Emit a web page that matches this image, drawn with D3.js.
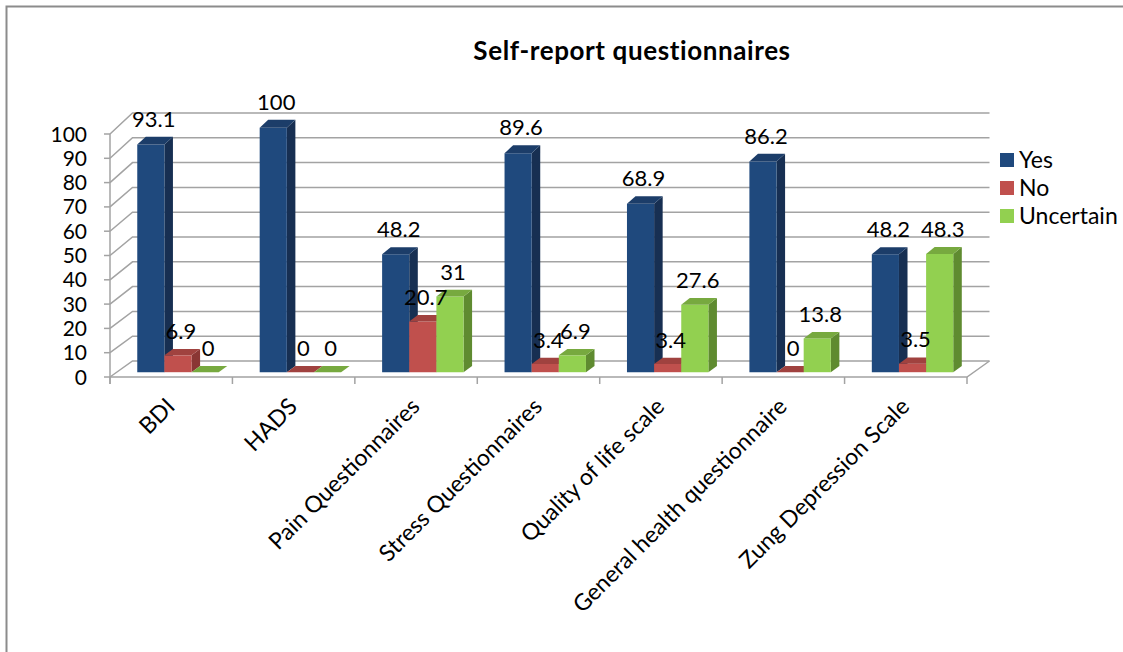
<!DOCTYPE html>
<html>
<head>
<meta charset="utf-8">
<script src="https://cdn.jsdelivr.net/npm/d3@7"></script>
<style>
  html, body { margin: 0; padding: 0; background: #fff; overflow: hidden; }
  svg { display: block; font-family: Lato, "Open Sans", sans-serif; }
</style>
</head>
<body>
<svg id="chart" width="1123" height="652"></svg>
<script>
// Categories and series values (percent)
const categories = [
  "BDI", "HADS", "Pain Questionnaires", "Stress Questionnaires",
  "Quality of life scale", "General health questionnaire", "Zung Depression Scale"
];
const seriesNames = ["Yes", "No", "Uncertain"];
const yesValues = [93.1, 100, 48.2, 89.6, 68.9, 86.2, 48.2];
const noValues = [6.9, 0, 20.7, 3.4, 3.4, 0, 3.5];
const uncertainValues = [0, 0, 31, 6.9, 27.6, 13.8, 48.3];
const yTicks = [0, 10, 20, 30, 40, 50, 60, 70, 80, 90, 100];

const seriesValues = { Yes: yesValues, No: noValues, Uncertain: uncertainValues };
const colors = {
  Yes:       { front: "#1F497D", side: "#172F52", top: "#1C3D69" },
  No:        { front: "#C0504D", side: "#8A3634", top: "#A0423F" },
  Uncertain: { front: "#92D050", side: "#5F8B30", top: "#77A93F" }
};

const svg = d3.select("#chart");

// Chart area border (top and left edges fall inside the page)
svg.append("path")
  .attr("d", "M6.5,660 L6.5,6.5 L1130,6.5")
  .attr("fill", "none").attr("stroke", "#8c8c8c").attr("stroke-width", 2);

// Title
svg.append("text")
  .attr("x", 632).attr("y", 60)
  .attr("text-anchor", "middle")
  .attr("font-weight", "bold")
  .attr("font-size", 26)
  .attr("letter-spacing", 0.6)
  .attr("fill", "#000")
  .text("Self-report questionnaires");

// 3D plot geometry: front plane and back wall, with depth t in [0,1]
const frontX0 = 110, plotWidth = 857, depthDX = 22.5;
const yFront = d3.scaleLinear().domain([0, 100]).range([377, 134]);
const yBack = d3.scaleLinear().domain([0, 100]).range([361, 113]);
const x = d3.scaleBand().domain(categories).range([0, plotWidth]).paddingInner(0).paddingOuter(0);
const bw = x.bandwidth();
const xs = d3.scaleBand().domain(seriesNames).range([bw * 0.1675, bw * 0.8325]).paddingInner(0);

function proj(u, v, t) {
  return [frontX0 + u + depthDX * t, yFront(v) + (yBack(v) - yFront(v)) * t];
}

const gridColor = "#a3a3a3";
const grid = svg.append("g").attr("stroke", gridColor).attr("stroke-width", 1.5).attr("fill", "none");

// Left wall diagonals and back wall gridlines
yTicks.forEach(v => {
  const f = proj(0, v, 0), b = proj(0, v, 1), e = proj(plotWidth, v, 1);
  grid.append("path").attr("d", d3.line()([f, b, e]));
});

// Floor front and right edges
{
  const a = proj(0, 0, 0), b = proj(plotWidth, 0, 0), c = proj(plotWidth, 0, 1);
  grid.append("path").attr("d", d3.line()([a, b, c]));
}

// Vertical value axis with ticks
grid.append("line")
  .attr("x1", frontX0).attr("x2", frontX0)
  .attr("y1", yFront(100)).attr("y2", yFront(0) + 7);
yTicks.forEach(v => {
  grid.append("line")
    .attr("x1", frontX0 - 6).attr("x2", frontX0)
    .attr("y1", yFront(v)).attr("y2", yFront(v));
});
// Category ticks below the floor
d3.range(categories.length + 1).forEach(i => {
  const px = frontX0 + i * bw;
  grid.append("line")
    .attr("x1", px).attr("x2", px)
    .attr("y1", yFront(0)).attr("y2", yFront(0) + 7);
});

// Y tick labels
svg.append("g").selectAll("text").data(yTicks).join("text")
  .attr("x", 87).attr("y", d => yFront(d))
  .attr("dy", "0.36em")
  .attr("text-anchor", "end")
  .attr("font-size", 21)
  .attr("fill", "#000")
  .text(d => d);

// Bars (front face, right side, top)
const t0 = 0.3, t1 = 0.68;
const bars = svg.append("g");
const labelData = [];
categories.forEach((cat, ci) => {
  seriesNames.forEach(s => {
    const v = seriesValues[s][ci];
    const u0 = x(cat) + xs(s), u1 = u0 + xs.bandwidth();
    const c = colors[s];
    const fbl = proj(u0, 0, t0), fbr = proj(u1, 0, t0);
    const ftl = proj(u0, v, t0), ftr = proj(u1, v, t0);
    const bbr = proj(u1, 0, t1), btr = proj(u1, v, t1), btl = proj(u0, v, t1);
    const g = bars.append("g");
    g.append("path").attr("d", d3.line()([ftr, fbr, bbr, btr]) + "Z").attr("fill", c.side);
    g.append("path").attr("d", d3.line()([fbl, fbr, ftr, ftl]) + "Z").attr("fill", c.front);
    g.append("path").attr("d", d3.line()([ftl, ftr, btr, btl]) + "Z").attr("fill", c.top);
    labelData.push({ v, x: (ftl[0] + ftr[0]) / 2 + 3, y: btl[1] - 10 });
  });
});

// Value labels
svg.append("g").selectAll("text").data(labelData).join("text")
  .attr("x", d => d.x).attr("y", d => d.y)
  .attr("text-anchor", "middle")
  .attr("font-size", 22)
  .attr("fill", "#000")
  .text(d => d.v);

// Rotated category labels
svg.append("g").selectAll("text").data(categories).join("text")
  .attr("transform", d => `translate(${frontX0 + x(d) + bw / 2 + 5},${yFront(0) + 31}) rotate(-45)`)
  .attr("text-anchor", "end")
  .attr("font-size", 23)
  .attr("fill", "#000")
  .text(d => d);

// Legend
const legend = svg.append("g").attr("transform", "translate(1000,160)");
seriesNames.forEach((s, i) => {
  const row = legend.append("g").attr("transform", `translate(0,${i * 28})`);
  row.append("rect").attr("x", 0).attr("y", -7).attr("width", 14).attr("height", 14).attr("fill", colors[s].front);
  row.append("text").attr("x", 19).attr("y", 0).attr("dy", "0.36em")
    .attr("font-size", 23).attr("fill", "#000").text(s);
});
</script>
</body>
</html>
